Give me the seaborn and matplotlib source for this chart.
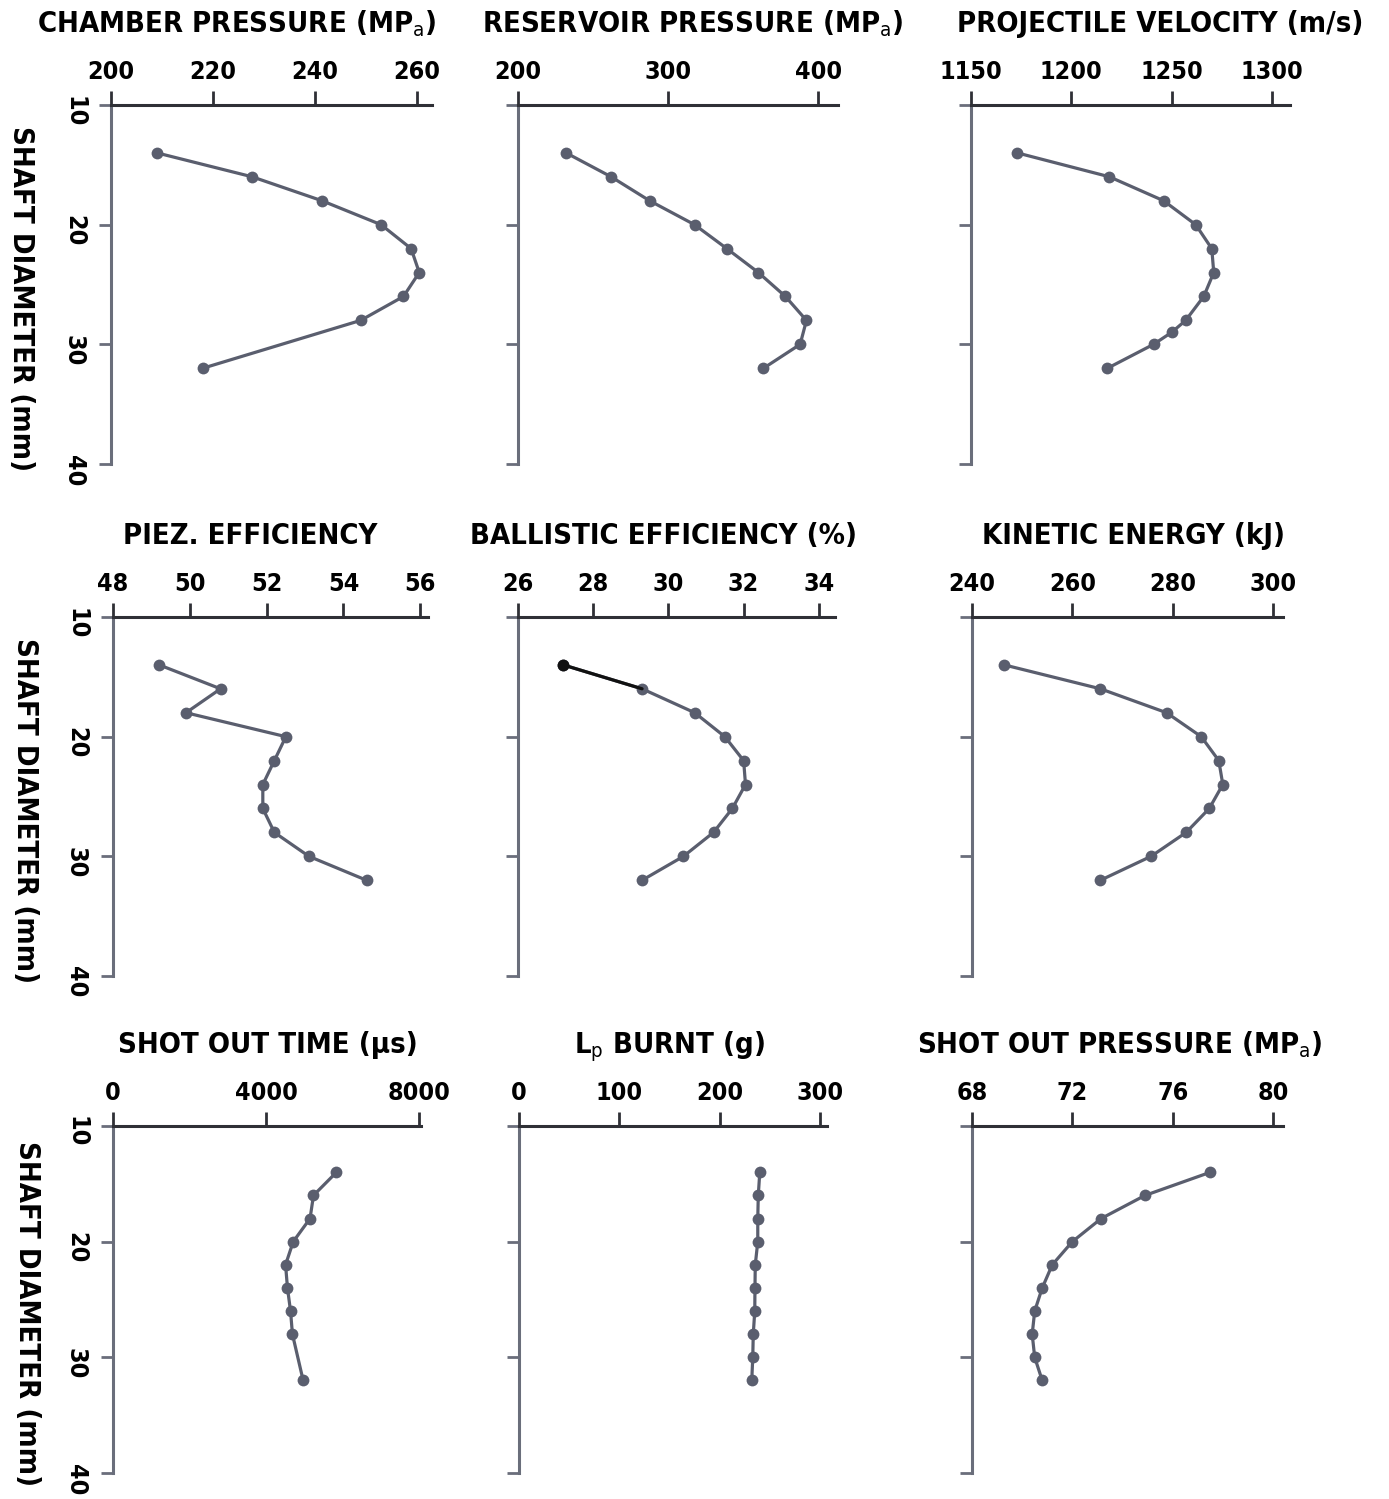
import matplotlib
matplotlib.use("Agg")
import matplotlib.pyplot as plt
import seaborn as sns
import pandas as pd

# ---------------- data ----------------
diam = [14, 16, 18, 20, 22, 24, 26, 28, 30, 32]
diam_chamber = [14, 16, 18, 20, 22, 24, 26, 28, 32]
diam_velocity = [14, 16, 18, 20, 22, 24, 26, 28, 29, 30, 32]
diam_time = [14, 16, 18, 20, 22, 24, 26, 28, 32]

chamber_pressure = [209, 227.7, 241.4, 253, 258.9, 260.5, 257.4, 249, 218]
reservoir_pressure = [232, 262, 287.6, 317.5, 339, 360, 378, 392, 387.8, 363.4]
projectile_velocity = [1173, 1219, 1246, 1262, 1270, 1271, 1266, 1257, 1250, 1241, 1218]
piez_efficiency = [49.2, 50.8, 49.9, 52.5, 52.2, 51.9, 51.9, 52.2, 53.1, 54.6]
ballistic_efficiency = [27.2, 29.3, 30.7, 31.5, 32.0, 32.05, 31.7, 31.2, 30.4, 29.3]
kinetic_energy = [246.4, 265.6, 278.8, 285.7, 289.2, 290.0, 287.3, 282.7, 275.7, 265.6]
shot_out_time = [5840, 5240, 5150, 4710, 4510, 4560, 4640, 4690, 4970]
lp_burnt = [240, 238.5, 238, 238, 235.5, 235.2, 235, 233.5, 233, 232]
shot_out_pressure = [77.5, 74.9, 73.15, 72.0, 71.2, 70.8, 70.5, 70.4, 70.5, 70.8]

titles = ["CHAMBER PRESSURE (MP$_\\mathrm{a}$)", "RESERVOIR PRESSURE (MP$_\\mathrm{a}$)",
          "PROJECTILE VELOCITY (m/s)", "PIEZ. EFFICIENCY", "BALLISTIC EFFICIENCY (%)",
          "KINETIC ENERGY (kJ)", "SHOT OUT TIME (μs)", "L$_\\mathrm{p}$ BURNT (g)",
          "SHOT OUT PRESSURE (MP$_\\mathrm{a}$)"]
xticks = [[200, 220, 240, 260], [200, 300, 400], [1150, 1200, 1250, 1300],
          [48, 50, 52, 54, 56], [26, 28, 30, 32, 34], [240, 260, 280, 300],
          [0, 4000, 8000], [0, 100, 200, 300], [68, 72, 76, 80]]
xlims = [(200, 263), (200, 413), (1150, 1309), (48, 56.2), (26, 34.43),
         (240, 302), (0, 8050), (0, 307), (68, 80.4)]
series = [(diam_chamber, chamber_pressure), (diam, reservoir_pressure),
          (diam_velocity, projectile_velocity), (diam, piez_efficiency),
          (diam, ballistic_efficiency), (diam, kinetic_energy),
          (diam_time, shot_out_time), (diam, lp_burnt), (diam, shot_out_pressure)]
yticks = [10, 20, 30, 40]
ylabel = "SHAFT DIAMETER (mm)"

# ---------------- layout (pixels) ----------------
W, H = 1389, 1499
boxes = [  # left, right, top, bottom
    (111, 432, 105, 464), (518, 838, 105, 464), (971, 1290, 105, 464),
    (113, 428, 617, 976), (518, 835, 617, 976), (972, 1283, 617, 976),
    (113, 421, 1126, 1473), (519, 827, 1126, 1473), (972, 1283, 1126, 1473),
]
title_cx = [237, 693, 1160, 250, 663, 1133, 268, 670, 1120]

sns.set_style("ticks")
plt.rcParams["font.family"] = ["DejaVu Sans"]
plt.rcParams["font.stretch"] = "condensed"
plt.rcParams["mathtext.default"] = "regular"
plt.rcParams["text.color"] = "black"
plt.rcParams["axes.labelcolor"] = "black"
plt.rcParams["xtick.color"] = "black"
plt.rcParams["ytick.color"] = "black"

line_c = "#5a5e6e"
spine_top = "#2f3036"
spine_left = "#6a6e7b"

fig = plt.figure(figsize=(W / 100, H / 100), dpi=100)
fig.patch.set_facecolor("white")

for i, (box, (yv, xv)) in enumerate(zip(boxes, series)):
    l, r, t, b = box
    ax = fig.add_axes([l / W, 1 - b / H, (r - l) / W, (b - t) / H])
    df = pd.DataFrame({"x": xv, "y": yv})
    sns.lineplot(data=df, x="x", y="y", sort=False, estimator=None, ax=ax,
                 color=line_c, lw=2.3, marker="o", markersize=8.5,
                 markeredgewidth=0, markerfacecolor=line_c)
    if i == 4:
        sns.lineplot(data=df.iloc[:2], x="x", y="y", sort=False, estimator=None, ax=ax,
                     color="#111111", lw=2.3, marker="o", markersize=8.5,
                     markeredgewidth=0, markevery=[0])
    ax.set_xlim(*xlims[i])
    ax.set_ylim(40, 10)
    ax.set_xticks(xticks[i])
    ax.set_yticks(yticks)
    ax.xaxis.tick_top()
    ax.xaxis.set_label_position("top")
    for s in ["bottom", "right"]:
        ax.spines[s].set_visible(False)
    ax.spines["top"].set_color(spine_top)
    ax.spines["top"].set_linewidth(2.2)
    ax.spines["left"].set_color(spine_left)
    ax.spines["left"].set_linewidth(2.2)
    ax.tick_params(axis="x", direction="out", length=10, width=2, color=spine_top,
                   labelsize=18, pad=5, labelcolor="black")
    ax.tick_params(axis="y", direction="out", length=9, width=2, color=spine_left,
                   labelsize=18, pad=9, labelrotation=-90, labelcolor="black")
    for lab in ax.get_xticklabels() + ax.get_yticklabels():
        lab.set_fontweight("bold")
    ax.set_xlabel("")
    if i % 3 == 0:
        ax.set_ylabel(ylabel, rotation=-90, fontsize=21, fontweight="bold",
                      va="center", ha="center", color="black")
        ax.yaxis.set_label_coords(-0.28, 0.46)
    else:
        ax.set_ylabel("")
        ax.set_yticklabels([])
    ax.set_title(titles[i], fontsize=21, fontweight="bold", color="black",
                 x=(title_cx[i] - l) / (r - l), pad=20)
    ax.set_facecolor("white")

fig.savefig("out.png", dpi=100, facecolor="white")
